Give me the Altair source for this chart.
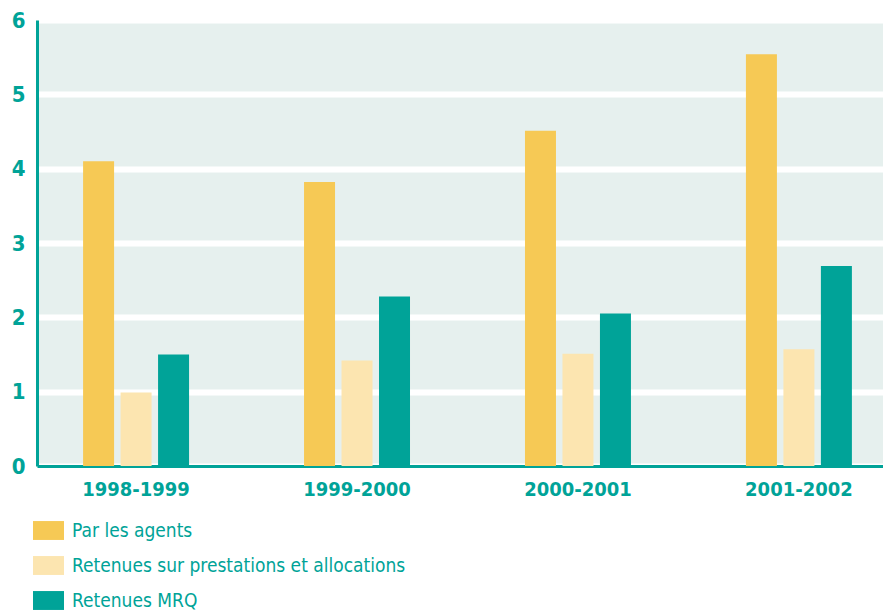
import altair as alt
import pandas as pd

periods = ["1998-1999", "1999-2000", "2000-2001", "2001-2002"]
series = ["Par les agents", "Retenues sur prestations et allocations", "Retenues MRQ"]
agents = [4.10, 3.82, 4.51, 5.54]
prestations = [0.99, 1.42, 1.51, 1.57]
mrq = [1.50, 2.28, 2.05, 2.69]
colors = ["#F6C955", "#FCE5B0", "#00A398"]

rows = []
for i, p in enumerate(periods):
    for s, vals in zip(series, [agents, prestations, mrq]):
        rows.append({"periode": p, "serie": s, "valeur": vals[i]})
df = pd.DataFrame(rows)

TEAL = "#00A398"
AXFONT = "DejaVu Sans Condensed, DejaVu Sans, Liberation Sans"

chart = alt.Chart(df).mark_bar(size=31).encode(
    x=alt.X("periode:N", sort=periods, title=None,
            scale=alt.Scale(paddingInner=0.491, paddingOuter=0.16, align=0.606),
            axis=alt.Axis(labelAngle=0, labelFont=AXFONT, labelFontSize=20,
                          labelFontWeight="bold", labelColor=TEAL, ticks=False,
                          labelPadding=13, domainColor=TEAL, domainWidth=3)),
    xOffset=alt.XOffset("serie:N", sort=series,
                        scale=alt.Scale(paddingInner=0, paddingOuter=0)),
    y=alt.Y("valeur:Q", title=None,
            scale=alt.Scale(domain=[0, 6], nice=False),
            axis=alt.Axis(values=[0, 1, 2, 3, 4, 5, 6], labelFont=AXFONT,
                          labelFontSize=22, labelFontWeight="bold", labelColor=TEAL,
                          ticks=False, labelPadding=12, domainColor=TEAL,
                          domainWidth=3, grid=True, gridColor="white",
                          gridWidth=6)),
    color=alt.Color("serie:N", sort=series,
                    scale=alt.Scale(domain=series, range=colors),
                    legend=alt.Legend(title=None, orient="none", legendX=-4,
                                      legendY=495, padding=0,
                                      symbolType="M-1,-0.61H1V0.61H-1Z",
                                      symbolSize=961, symbolStrokeWidth=0,
                                      labelFont=AXFONT, labelFontSize=19,
                                      labelColor=TEAL, labelOffset=8,
                                      rowPadding=9, labelLimit=600)),
).properties(
    width=846, height=446,
    padding={"left": 29, "top": 12, "right": 0, "bottom": 146},
    autosize=alt.AutoSizeParams(type="none"),
).configure_view(
    fill="#E6F0EE", stroke=None
).configure_axis(
    gridCap="butt"
)

chart.save("out.html", embed_options={"renderer": "svg", "actions": False})
